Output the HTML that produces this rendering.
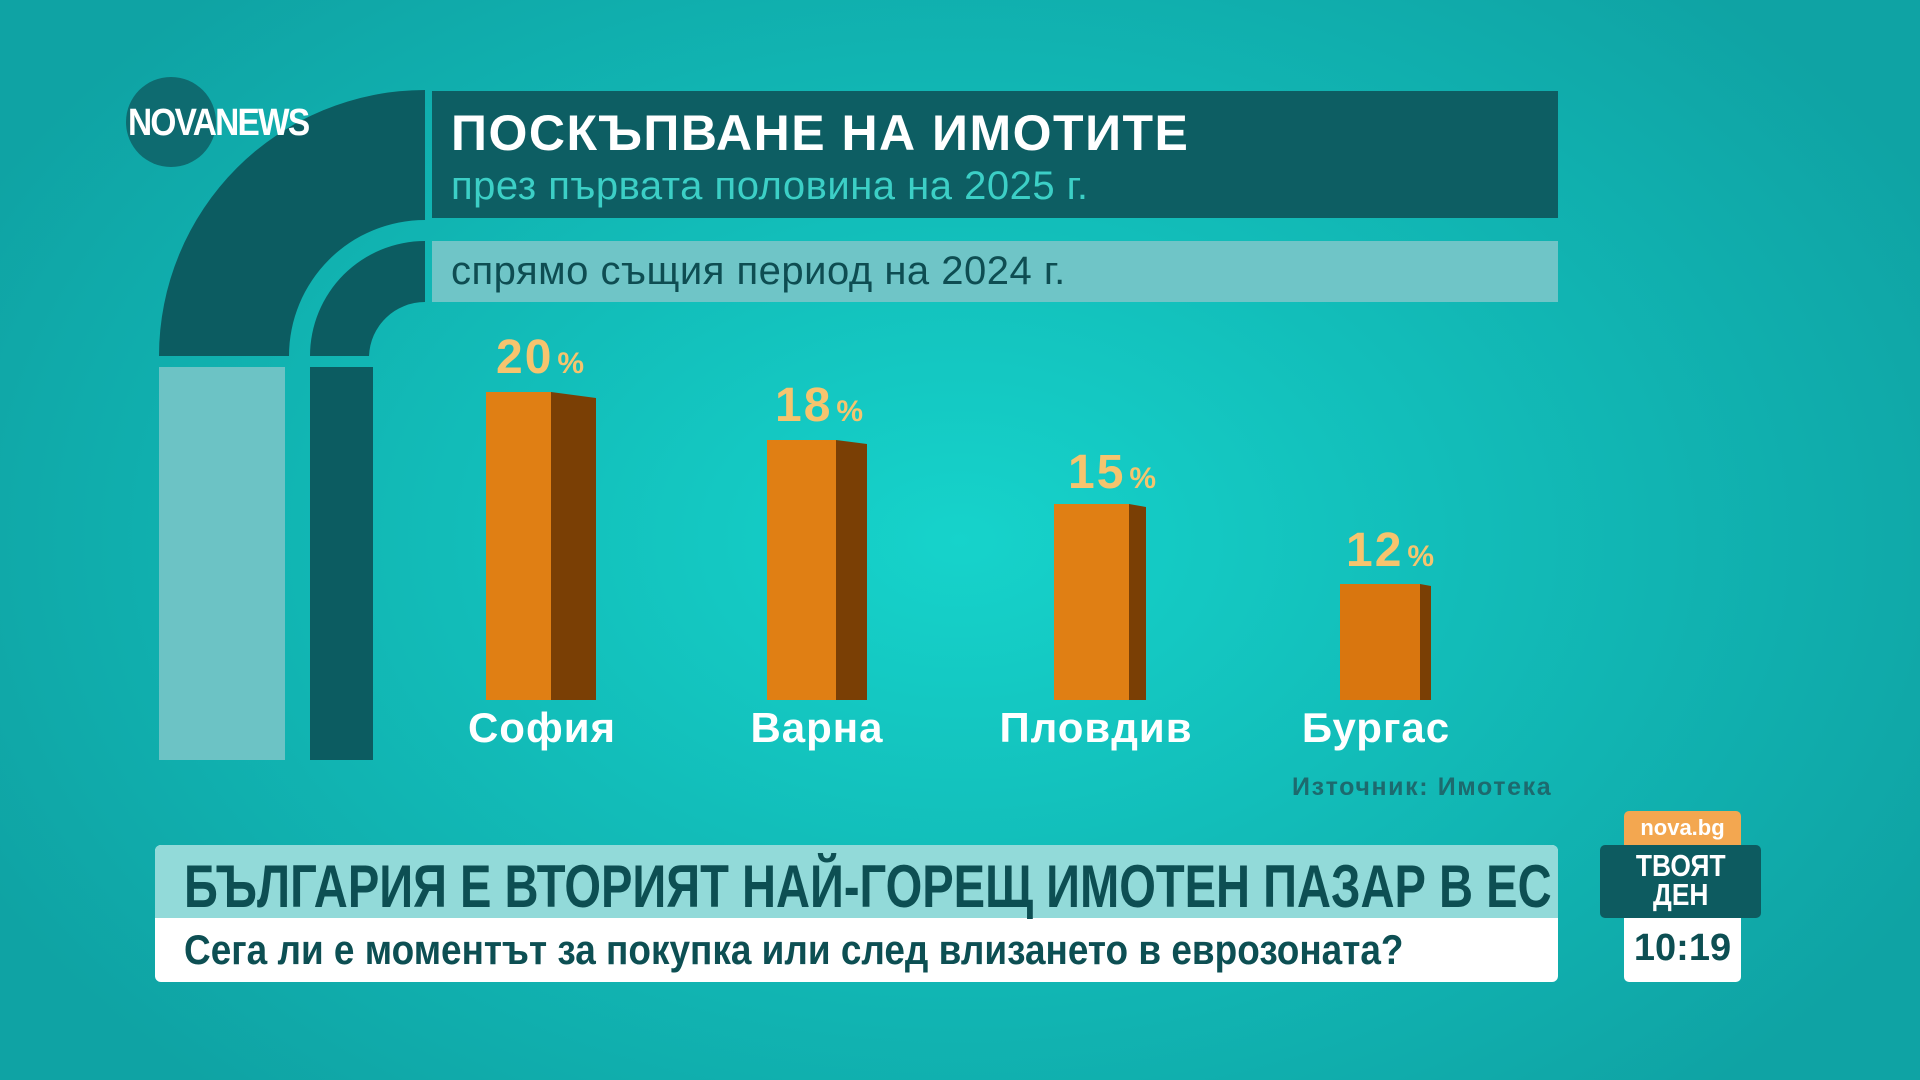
<!DOCTYPE html>
<html><head><meta charset="utf-8"><style>
html,body{margin:0;padding:0}
body{width:1920px;height:1080px;overflow:hidden;position:relative;
background:radial-gradient(ellipse 1100px 750px at 960px 540px,#16d3cb 0%,#12bdb9 45%,#0fa3a4 100%);
font-family:"Liberation Sans","DejaVu Sans",sans-serif;}
.a{position:absolute}
.t{white-space:nowrap;font-weight:bold}
.sx{transform-origin:0 0}
.pct{color:#f6c46e;font-size:48px;font-weight:bold;letter-spacing:2px}
.pct small{font-size:30px;margin-left:4px}
.city{color:#fff;font-size:42px;font-weight:bold;text-align:center;width:300px;letter-spacing:1px}
</style></head><body>
<svg class="a" style="left:0;top:0" width="1920" height="1080">
 <path d="M159 356 A266 266 0 0 1 425 90 L425 220 A136 136 0 0 0 289 356 Z" fill="#0c5c61"/>
 <path d="M310 356 A115 115 0 0 1 425 241 L425 302 A56 56 0 0 0 369 356 Z" fill="#0c5c61"/>
 <rect x="159" y="367" width="126" height="393" fill="#6cc3c5"/>
 <rect x="310" y="367" width="63" height="393" fill="#0c5c61"/>
 <rect x="432" y="91" width="1126" height="127" fill="#0d5e63"/>
 <rect x="432" y="241" width="1126" height="61" fill="#6fc5c7"/>
 <polygon points="551,392 596,398 596,700 551,700" fill="#7a3f05"/><rect x="486" y="392" width="65" height="308" fill="#e07f14"/>
 <polygon points="836,440 867,444 867,700 836,700" fill="#7a3f05"/><rect x="767" y="440" width="69" height="260" fill="#e07f14"/>
 <polygon points="1129,504 1146,507 1146,700 1129,700" fill="#7a3f05"/><rect x="1054" y="504" width="75" height="196" fill="#e07f14"/>
 <polygon points="1420,584 1431,586 1431,700 1420,700" fill="#7a3f05"/><rect x="1340" y="584" width="80" height="116" fill="#d9760f"/>
 <circle cx="171" cy="122" r="45" fill="#0e6b70"/>
 <rect x="155" y="845" width="1403" height="137" rx="6" fill="#fff"/>
 <path d="M161 845 H1552 A6 6 0 0 1 1558 851 V918 H155 V851 A6 6 0 0 1 161 845Z" fill="#92dad9"/>
 <rect x="1624" y="811" width="117" height="40" rx="5" fill="#f3a750"/>
 <rect x="1624" y="900" width="117" height="82" rx="5" fill="#fff"/>
 <rect x="1600" y="845" width="161" height="73" rx="5" fill="#0d5b60"/>
</svg>
<div class="a t sx" style="left:128px;top:102px;font-size:38px;color:#fff;letter-spacing:-2px;transform:scaleX(0.88)">NOVANEWS</div>
<div class="a t" style="left:451px;top:104px;font-size:50px;color:#fff;letter-spacing:1.5px">ПОСКЪПВАНЕ НА ИМОТИТЕ</div>
<div class="a" style="left:451px;top:164px;font-size:40px;color:#3ccfc6;white-space:nowrap;letter-spacing:0.5px">през първата половина на 2025 г.</div>
<div class="a" style="left:451px;top:249px;font-size:40px;color:#0e4d52;white-space:nowrap;letter-spacing:0.5px">спрямо същия период на 2024 г.</div>
<div class="a pct" style="left:496px;top:330px">20<small>%</small></div>
<div class="a pct" style="left:775px;top:378px">18<small>%</small></div>
<div class="a pct" style="left:1068px;top:445px">15<small>%</small></div>
<div class="a pct" style="left:1346px;top:523px">12<small>%</small></div>
<div class="a city" style="left:392px;top:704px">София</div>
<div class="a city" style="left:667px;top:704px">Варна</div>
<div class="a city" style="left:946px;top:704px">Пловдив</div>
<div class="a city" style="left:1226px;top:704px">Бургас</div>
<div class="a t" style="left:1292px;top:773px;font-size:25px;color:#1d6a6e;letter-spacing:1.6px">Източник: Имотека</div>
<div class="a t sx" style="left:184px;top:852px;font-size:60px;color:#0d4f53;transform:scaleX(0.785)">БЪЛГАРИЯ Е ВТОРИЯТ НАЙ-ГОРЕЩ ИМОТЕН ПАЗАР В ЕС</div>
<div class="a t sx" style="left:184px;top:926px;font-size:42px;color:#0d4f53;transform:scaleX(0.88)">Сега ли е моментът за покупка или след влизането в еврозоната?</div>
<div class="a t" style="left:1624px;top:815px;width:117px;text-align:center;font-size:22px;color:#fff">nova.bg</div>
<div class="a t" style="left:1600px;top:851px;width:161px;text-align:center;font-size:31px;line-height:29px;color:#fff"><span style="display:inline-block;transform:scaleX(0.85)">ТВОЯТ<br>ДЕН</span></div>
<div class="a t" style="left:1624px;top:927px;width:117px;text-align:center;font-size:38px;color:#0d4f53">10:19</div>
</body></html>
